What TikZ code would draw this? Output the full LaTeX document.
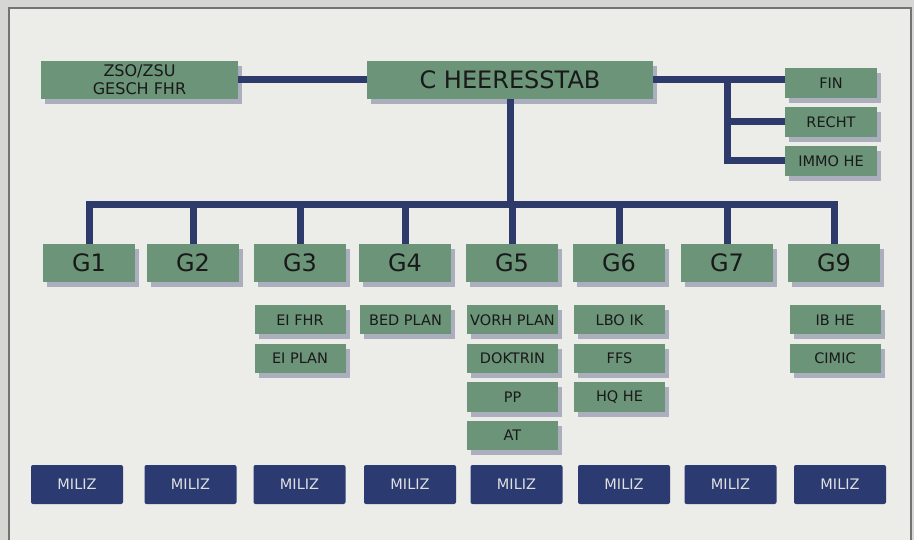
\documentclass[tikz,border=0pt]{standalone}
\usepackage{fontspec}
\setmainfont{DejaVu Sans}
\usetikzlibrary{shadows}

\definecolor{boxgreen}{HTML}{6B9479}
\definecolor{linenavy}{HTML}{2E3B6A}
\definecolor{milizblue}{HTML}{2B3A70}
\definecolor{pagegray}{HTML}{ECECE9}
\definecolor{edgegray}{HTML}{D6D6D2}
\definecolor{shadowc}{HTML}{5E6688}

\begin{document}
\begin{tikzpicture}[x=1pt, y=-1pt,
    every node/.style={inner sep=0pt, text=black!90},
    green/.style={rectangle, fill=boxgreen, drop shadow={shadow xshift=4pt, shadow yshift=-5pt, fill=shadowc, opacity=0.45}},
    bigbox/.style={green, minimum height=38pt, font=\fontsize{24}{26}\selectfont},
    gbox/.style={bigbox, minimum width=92pt},
    sub/.style={green, minimum width=91pt, minimum height=29pt, font=\fontsize{14.5}{16}\selectfont},
    miliz/.style={rectangle, rounded corners=2pt, fill=milizblue, minimum width=92pt, minimum height=39pt, text=black!12, font=\fontsize{14.5}{16}\selectfont},
    link/.style={draw=linenavy, line width=7pt}]
    % page
    \useasboundingbox (0,0) rectangle (914,540);
    \fill[edgegray] (0,0) rectangle (914,540);
    \filldraw[fill=pagegray, draw=black!55, line width=1.2pt] (9,8) rectangle (911,546);
    % top row
    \node[green, minimum width=197pt, minimum height=38pt, align=center, font=\fontsize{16}{18}\selectfont] (zso) at (139.5,80) {ZSO/ZSU\\GESCH FHR};
    \node[bigbox, minimum width=286pt] (ch) at (510,80) {C HEERESSTAB};
    \node[sub, minimum width=92pt, minimum height=30pt] (fin) at (831,83) {FIN};
    \node[sub, minimum width=92pt, minimum height=30pt] (recht) at (831,122) {RECHT};
    \node[sub, minimum width=92pt, minimum height=30pt] (immo) at (831,161) {IMMO HE};
    % G row
    \foreach \n/\x in {1/89,2/193,3/300,4/405,5/512,6/619,7/727,9/834}
        \node[gbox] (g\n) at (\x,263) {G\n};
    % sub boxes
    \node[sub] (eifhr) at (300,320) {EI FHR};
    \node[sub] (eiplan) at (300,358.5) {EI PLAN};
    \node[sub] (bedplan) at (405.5,320) {BED PLAN};
    \node[sub] (vorh) at (512.5,320) {VORH PLAN};
    \node[sub] (doktrin) at (512.5,358.5) {DOKTRIN};
    \node[sub] (pp) at (512.5,397) {PP};
    \node[sub] (at) at (512.5,435.5) {AT};
    \node[sub] (lbo) at (619.5,320) {LBO IK};
    \node[sub] (ffs) at (619.5,358.5) {FFS};
    \node[sub] (hq) at (619.5,397) {HQ HE};
    \node[sub] (ib) at (835,320) {IB HE};
    \node[sub] (cimic) at (835,358.5) {CIMIC};
    % MILIZ row
    \foreach \i/\x in {1/77,2/190.5,3/299.5,4/410,5/516.5,6/624,7/730.5,8/840}
        \node[miliz] (m\i) at (\x,484.5) {MILIZ};
    % Edges
    \coordinate (bus) at (510,205);
    \coordinate (rbus) at (727,80);
    \draw[link] (zso) -- (ch);
    \draw[link] (ch) -- (ch -| fin.west);
    \draw[link] (rbus) |- (immo.west);
    \draw[link] (rbus |- recht) -- (recht.west);
    \draw[link] (ch.south) -- (bus);
    \draw[link, line cap=rect] (g1.north |- bus) -- (g9.north |- bus);
    \foreach \n in {1,2,3,4,5,6,7,9}
        \draw[link] (g\n.north |- bus) -- (g\n.north);
\end{tikzpicture}
\end{document}
